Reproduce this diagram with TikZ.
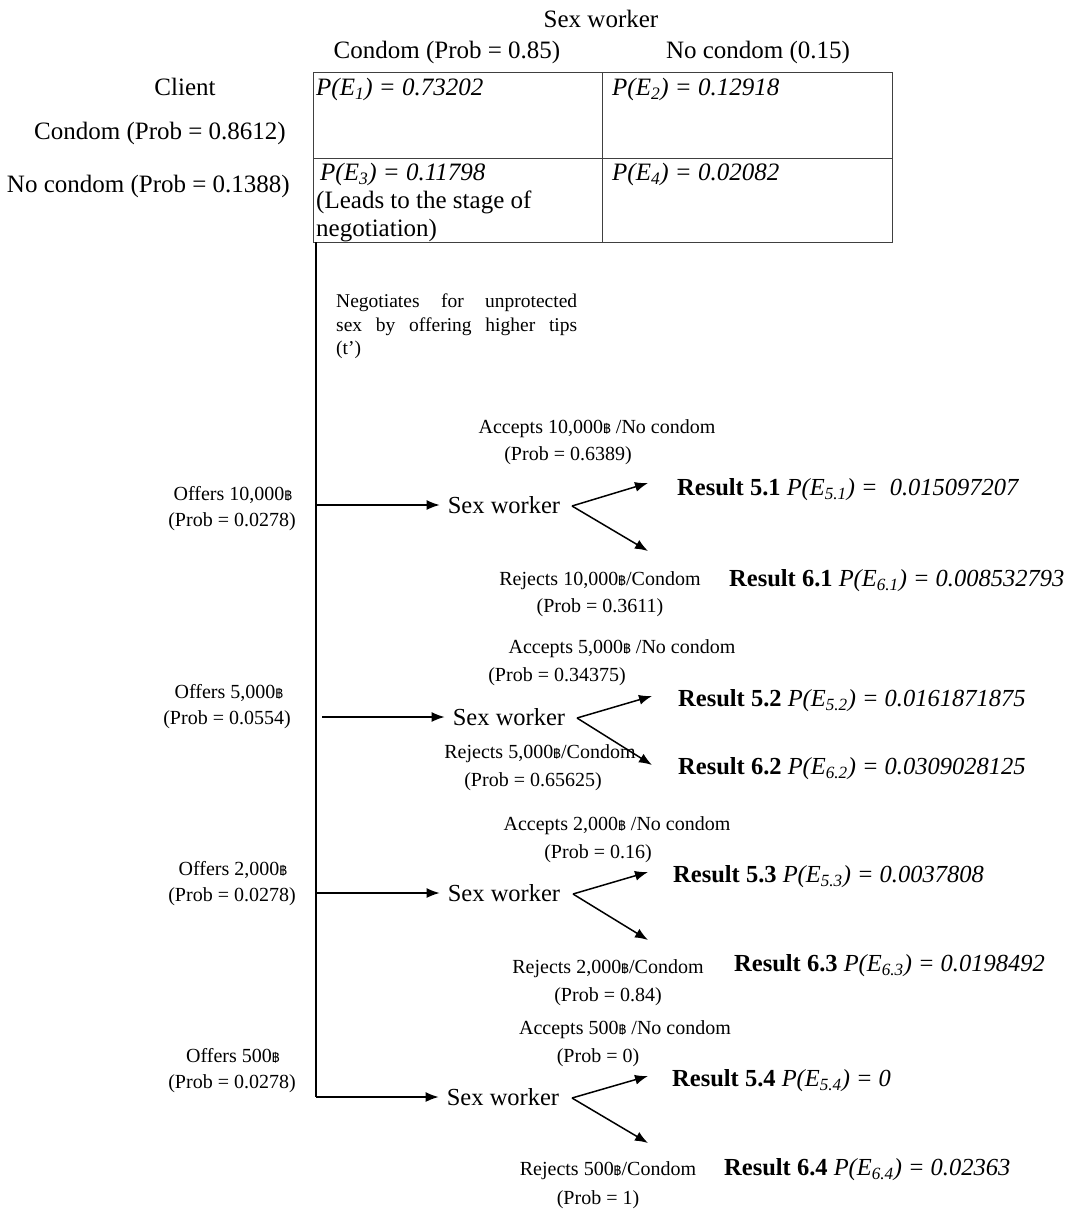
\documentclass[tikz,border=0pt]{standalone}
\usepackage{fontspec}
\setmainfont{Liberation Serif}
\newfontfamily\thaifont[Script=Thai]{Loma}
\usetikzlibrary{arrows.meta}
\newcommand\bht{{\thaifont\fontsize{13}{13}\selectfont ฿}}
\newcommand\Pe[1]{P(E\textsubscript{#1})}
\hbadness=10000
\begin{document}
\begin{tikzpicture}[x=1pt,y=-1pt,
  big/.style={font=\fontsize{25}{30}\selectfont, inner sep=0pt, anchor=mid, yshift=-4pt},
  sml/.style={font=\fontsize{20}{24}\selectfont, inner sep=0pt, anchor=mid, yshift=-3pt},
  res/.style={font=\fontsize{24.5}{29}\selectfont, inner sep=0pt, anchor=mid west, yshift=-4pt},
  ctext/.style={font=\fontsize{25}{30}\selectfont\itshape, inner sep=0pt, anchor=base west},
  cell/.style={draw=black!75, line width=0.9pt, anchor=north west, inner sep=0pt},
  worker/.style={font=\fontsize{24.5}{29}\selectfont, inner xsep=8pt, inner ysep=2pt, anchor=mid, yshift=-4pt},
  arr/.style={line width=1.5pt, -{Latex[length=13pt,width=10pt]}},
  trunk/.style={line width=1.8pt}
]
\useasboundingbox (0,0) rectangle (1070,1209);

% header
\node[big] (sw) at (601,21) {Sex worker};
\node[big] (cc) at (447,52) {Condom (Prob = 0.85)};
\node[big] (nc) at (758,52) {No condom (0.15)};
\node[big] (cl) at (185,89) {Client};
\node[big, anchor=mid east] (ccl) at (286,133) {Condom (Prob = 0.8612)};
\node[big, anchor=mid east] (ncl) at (290,186) {No condom (Prob = 0.1388)};

% table
\node[cell, minimum width=289pt, minimum height=86pt] (c1) at (313,72) {};
\node[cell, minimum width=290pt, minimum height=86pt] (c2) at (602,72) {};
\node[cell, minimum width=289pt, minimum height=84pt] (c3) at (313,158) {};
\node[cell, minimum width=290pt, minimum height=84pt] (c4) at (602,158) {};
\node[ctext] (e1) at (316,96) {\Pe{1} = 0.73202};
\node[ctext] (e2) at (612,96) {\Pe{2} = 0.12918};
\node[ctext] (e3) at (320,181) {\Pe{3} = 0.11798};
\node[ctext, font=\fontsize{25}{30}\selectfont] (e3b) at (316,208) {(Leads to the stage of};
\node[ctext, font=\fontsize{25}{30}\selectfont] (e3c) at (316,236) {negotiation)};
\node[ctext] (e4) at (612,181) {\Pe{4} = 0.02082};

% negotiation text
\node[font=\fontsize{19.5}{23.5}\selectfont, text width=241pt, align=justify, inner sep=0pt, anchor=north west] (neg) at (336,294)
  {Negotiates for unprotected\linebreak sex by offering higher tips\linebreak (t')};

% trunk
\coordinate (top) at (316,242);
\coordinate (b1) at (316,505);
\coordinate (b2) at (322,717);
\coordinate (b3) at (316,893);
\coordinate (corner) at (316,1097);

% branch 1
\node[sml] (o1a) at (233,495) {Offers 10,000\bht};
\node[sml] (o1b) at (232,521) {(Prob = 0.0278)};
\node[worker] (sw1) at (504,507) {Sex worker};
\node[sml] (a1a) at (597,428) {Accepts 10,000\bht\ /No condom};
\node[sml] (a1b) at (568,455) {(Prob = 0.6389)};
\node[sml] (j1a) at (600,580) {Rejects 10,000\bht/Condom};
\node[sml] (j1b) at (600,607) {(Prob = 0.3611)};
\node[res] (r51) at (677,489) {\textbf{Result 5.1} \textit{\Pe{5.1} =\ \ 0.015097207}};
\node[res] (r61) at (729,580) {\textbf{Result 6.1} \textit{\Pe{6.1} = 0.008532793}};
\coordinate (ap1) at (572,506);
\coordinate (u1) at (648,483);
\coordinate (d1) at (648,551);

% branch 2
\node[sml] (o2a) at (229,693) {Offers 5,000\bht};
\node[sml] (o2b) at (227,719) {(Prob = 0.0554)};
\node[worker] (sw2) at (509,719) {Sex worker};
\node[sml] (a2a) at (622,648) {Accepts 5,000\bht\ /No condom};
\node[sml] (a2b) at (557,676) {(Prob = 0.34375)};
\node[sml] (j2a) at (540,753) {Rejects 5,000\bht/Condom};
\node[sml] (j2b) at (533,781) {(Prob = 0.65625)};
\node[res] (r52) at (678,700) {\textbf{Result 5.2} \textit{\Pe{5.2} = 0.0161871875}};
\node[res] (r62) at (678,768) {\textbf{Result 6.2} \textit{\Pe{6.2} = 0.0309028125}};
\coordinate (ap2) at (577,718);
\coordinate (u2) at (652,696);
\coordinate (d2) at (652,765);

% branch 3
\node[sml] (o3a) at (233,870) {Offers 2,000\bht};
\node[sml] (o3b) at (232,896) {(Prob = 0.0278)};
\node[worker] (sw3) at (504,895) {Sex worker};
\node[sml] (a3a) at (617,825) {Accepts 2,000\bht\ /No condom};
\node[sml] (a3b) at (598,853) {(Prob = 0.16)};
\node[sml] (j3a) at (608,968) {Rejects 2,000\bht/Condom};
\node[sml] (j3b) at (608,996) {(Prob = 0.84)};
\node[res] (r53) at (673,876) {\textbf{Result 5.3} \textit{\Pe{5.3} = 0.0037808}};
\node[res] (r63) at (734,965) {\textbf{Result 6.3} \textit{\Pe{6.3} = 0.0198492}};
\coordinate (ap3) at (573,894);
\coordinate (u3) at (648,872);
\coordinate (d3) at (648,940);

% branch 4
\node[sml] (o4a) at (233,1057) {Offers 500\bht};
\node[sml] (o4b) at (232,1083) {(Prob = 0.0278)};
\node[worker] (sw4) at (503,1099) {Sex worker};
\node[sml] (a4a) at (625,1029) {Accepts 500\bht\ /No condom};
\node[sml] (a4b) at (598,1057) {(Prob = 0)};
\node[sml] (j4a) at (608,1170) {Rejects 500\bht/Condom};
\node[sml] (j4b) at (598,1199) {(Prob = 1)};
\node[res] (r54) at (672,1080) {\textbf{Result 5.4} \textit{\Pe{5.4} = 0}};
\node[res] (r64) at (724,1169) {\textbf{Result 6.4} \textit{\Pe{6.4} = 0.02363}};
\coordinate (ap4) at (572,1098);
\coordinate (u4) at (648,1076);
\coordinate (d4) at (648,1143);

% connectors
\draw[trunk] (top) -- (corner);
\draw[arr] (corner) -- (corner -| sw4.west);
\draw[arr] (b1) -- (b1 -| sw1.west);
\draw[arr] (b2) -- (b2 -| sw2.west);
\draw[arr] (b3) -- (b3 -| sw3.west);
\foreach \i in {1,2,3,4}{
  \draw[arr] (ap\i) -- (u\i);
  \draw[arr] (ap\i) -- (d\i);
}
\end{tikzpicture}
\end{document}
